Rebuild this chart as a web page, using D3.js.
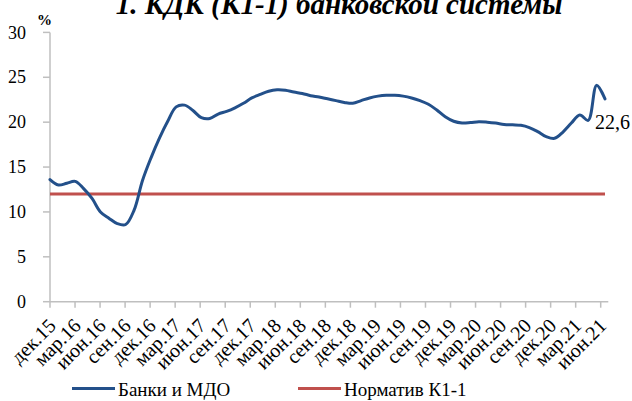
<!DOCTYPE html>
<html><head><meta charset="utf-8">
<script src="https://cdn.jsdelivr.net/npm/d3@7"></script>
<style>
body{margin:0;background:#fff;}
svg{display:block;font-family:"Liberation Serif",serif;}
</style></head>
<body><svg id="c" width="632" height="401"></svg>
<script>
const title = "1. КДК (К1-1) банковской системы";
const tickLabels = ["дек.15","мар.16","июн.16","сен.16","дек.16","мар.17","июн.17","сен.17","дек.17","мар.18","июн.18","сен.18","дек.18","мар.19","июн.19","сен.19","дек.19","мар.20","июн.20","сен.20","дек.20","мар.21","июн.21"];
// monthly values, Dec 2015 .. Jun 2021
const banks = [13.6,13.0,13.2,13.4,12.6,11.5,10.0,9.3,8.7,8.6,10.2,13.5,16.0,18.2,20.1,21.7,
  21.9,21.3,20.5,20.4,20.9,21.2,21.6,22.1,22.7,23.1,23.45,23.6,23.55,23.35,23.2,22.95,22.8,22.6,22.4,22.2,
  22.1,22.4,22.7,22.9,23.0,23.0,22.9,22.7,22.4,22.0,21.35,20.6,20.1,19.9,19.95,20.05,20.0,19.9,19.75,19.7,19.65,19.4,18.95,18.4,18.2,18.9,19.9,20.8,20.2,24.1,22.6];
const normValue = 12;
const yTicks = [0,5,10,15,20,25,30];
const seriesNames = ["Банки и МДО","Норматив К1-1"];
const colors = ["#23508a","#c0504d"];
const lastLabel = "22,6";

const svg = d3.select("#c");
const x = d3.scaleLinear().domain([0, banks.length-1]).range([50, 605]);
const xt = d3.scalePoint().domain(tickLabels).range([50, 600.7]);
const y = d3.scaleLinear().domain([0,30]).range([301.7, 32.4]);
const axisCol = "#bfbfbf";

// y axis
svg.append("line").attr("x1",50).attr("x2",50).attr("y1",y(30)).attr("y2",y(0)).attr("stroke",axisCol).attr("stroke-width",1.5);
yTicks.forEach(t=>{
  svg.append("line").attr("x1",43).attr("x2",50).attr("y1",y(t)).attr("y2",y(t)).attr("stroke",axisCol).attr("stroke-width",1.5);
  svg.append("text").attr("x",26).attr("y",y(t)).attr("dy","0.34em").attr("text-anchor","end").attr("font-size",18).attr("fill","#000").text(t);
});
// x axis
svg.append("line").attr("x1",50).attr("x2",608.3).attr("y1",y(0)).attr("y2",y(0)).attr("stroke",axisCol).attr("stroke-width",1.5);
tickLabels.forEach(l=>{
  svg.append("line").attr("x1",xt(l)).attr("x2",xt(l)).attr("y1",y(0)).attr("y2",y(0)+6).attr("stroke",axisCol).attr("stroke-width",1.5);
  svg.append("text").attr("transform",`translate(${xt(l)+7},327) rotate(-45)`).attr("text-anchor","end").attr("font-size",20).text(l);
});

// norm line
svg.append("line").attr("x1",x(0)).attr("x2",x(banks.length-1)).attr("y1",y(normValue)).attr("y2",y(normValue)).attr("stroke",colors[1]).attr("stroke-width",3);
// banks line
svg.append("path").datum(banks).attr("fill","none").attr("stroke",colors[0]).attr("stroke-width",3).attr("stroke-linejoin","round").attr("stroke-linecap","round")
  .attr("d", d3.line().x((d,i)=>x(i)).y(d=>y(d)).curve(d3.curveCatmullRom.alpha(0.5)));

svg.append("text").attr("x",595).attr("y",128.5).attr("font-size",20).text(lastLabel);

// title
svg.append("text").attr("x",339).attr("y",13.5).attr("text-anchor","middle").attr("font-size",29).attr("font-weight","bold").attr("font-style","italic").text(title);
svg.append("text").attr("x",37).attr("y",25).attr("font-size",15).attr("font-weight","bold").text("%");

// legend
const leg = [{x:72,name:seriesNames[0],c:colors[0]},{x:298,name:seriesNames[1],c:colors[1]}];
leg.forEach(g=>{
  svg.append("line").attr("x1",g.x).attr("x2",g.x+43).attr("y1",388.5).attr("y2",388.5).attr("stroke",g.c).attr("stroke-width",3);
  svg.append("text").attr("x",g.x+46).attr("y",396).attr("font-size",19).text(g.name);
});
</script></body></html>
